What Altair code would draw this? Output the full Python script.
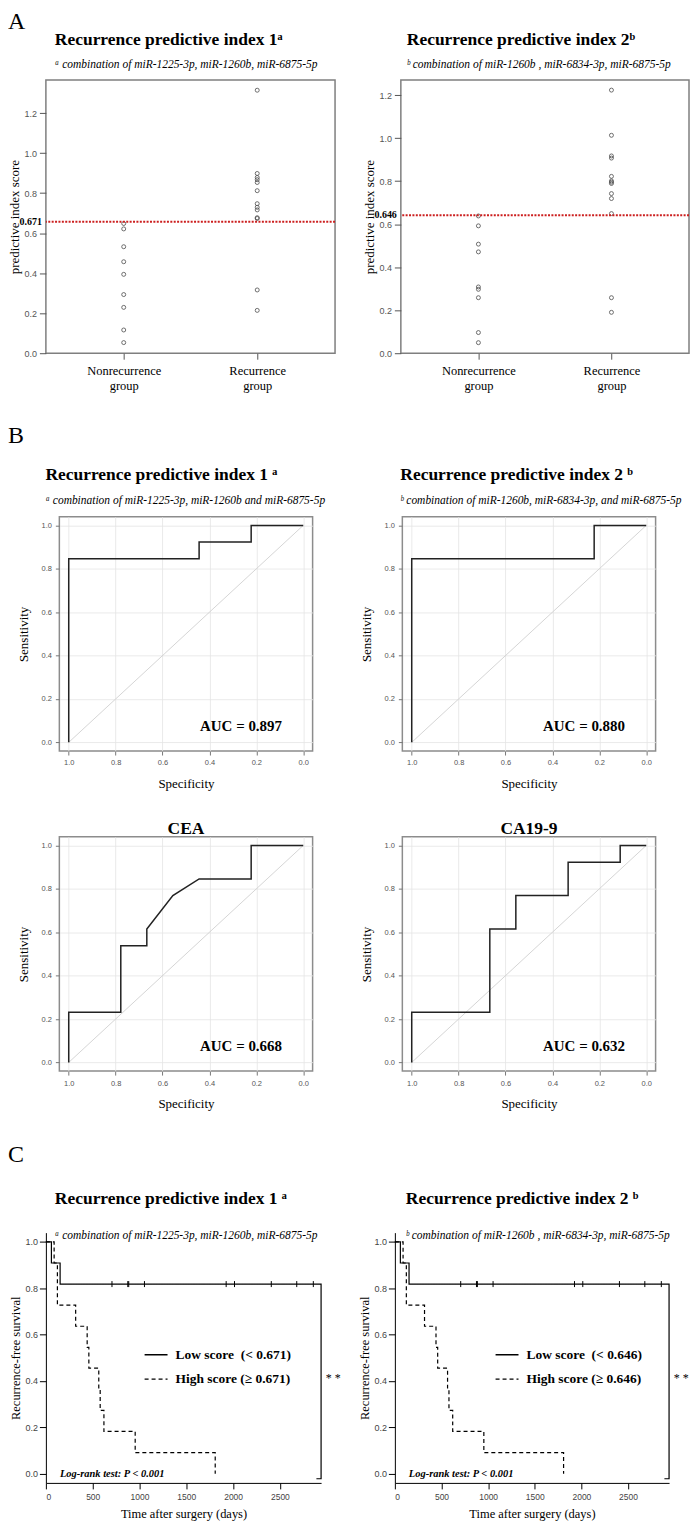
import altair as alt
import pandas as pd

SERIF = "Liberation Serif"
SANS = "Liberation Sans"

# ---------------- data ----------------
groups = ["Nonrecurrence group", "Recurrence group"]
idx1_nonrec = [0.648, 0.621, 0.532, 0.457, 0.394, 0.293, 0.229, 0.116, 0.053]
idx1_rec = [1.314, 0.898, 0.878, 0.867, 0.853, 0.812, 0.747, 0.729, 0.716, 0.677, 0.673, 0.316, 0.214]
idx2_nonrec = [0.638, 0.592, 0.507, 0.471, 0.308, 0.297, 0.258, 0.096, 0.049]
idx2_rec = [1.223, 1.013, 0.917, 0.907, 0.822, 0.801, 0.795, 0.789, 0.742, 0.719, 0.649, 0.258, 0.190]
cut1_line, cut1_label = 0.657, "0.671"
cut2_line, cut2_label = 0.641, "0.646"
score_ticks = [0.0, 0.2, 0.4, 0.6, 0.8, 1.0, 1.2]

roc1_spec = [1.0, 1.0, 0.444, 0.444, 0.222, 0.222, 0.0]
roc1_sens = [0.0, 0.846, 0.846, 0.923, 0.923, 1.0, 1.0]
roc2_spec = [1.0, 1.0, 0.222, 0.222, 0.0]
roc2_sens = [0.0, 0.846, 0.846, 1.0, 1.0]
cea_spec = [1.0, 1.0, 0.778, 0.778, 0.667, 0.667, 0.556, 0.444, 0.222, 0.222, 0.0]
cea_sens = [0.0, 0.231, 0.231, 0.538, 0.538, 0.615, 0.769, 0.846, 0.846, 1.0, 1.0]
ca_spec = [1.0, 1.0, 0.667, 0.667, 0.556, 0.556, 0.333, 0.333, 0.111, 0.111, 0.0]
ca_sens = [0.0, 0.231, 0.231, 0.615, 0.615, 0.769, 0.769, 0.923, 0.923, 1.0, 1.0]
roc_grid = [0.0, 0.1, 0.2, 0.3, 0.4, 0.5, 0.6, 0.7, 0.8, 0.9, 1.0]

low_t = [0, 59, 152, 2857]
low_s = [1.0, 0.909, 0.818, 0.818]
high_t = [0, 88, 123, 318, 441, 459, 565, 580, 620, 954, 1809]
high_s = [1.0, 0.909, 0.727, 0.636, 0.545, 0.455, 0.364, 0.273, 0.182, 0.091, 0.0]
censor_t = [706, 875, 885, 1053, 1926, 2015, 2408, 2680, 2857]
censor_s = 0.818
bracket_t = [2857, 2940, 2940, 2890]
bracket_s = [0.818, 0.818, -0.022, -0.022]
days_ticks = [0, 500, 1000, 1500, 2000, 2500]
surv_ticks = [0.0, 0.2, 0.4, 0.6, 0.8, 1.0]


def panel_title(text, sub, dx, offset, pad, anchor="start"):
    kw = dict(text=text, font=SERIF, fontSize=17.5, fontWeight="bold", color="black",
              anchor=anchor, frame="group", dx=dx, offset=offset)
    if sub:
        kw.update(subtitle=sub, subtitleFont=SERIF, subtitleFontSize=11.5,
                  subtitleFontStyle="italic", subtitleColor="black", subtitlePadding=pad)
    return alt.TitleParams(**kw)


def letter_title(text, dx, offset):
    return alt.TitleParams(text=text, font=SERIF, fontSize=24, fontWeight="normal", color="black",
                           anchor="start", frame="group", dx=dx, offset=offset)


# ---------------- panel A ----------------
def scatter_panel(nonrec, rec, line_val, line_label, ymax, width, height, title):
    df = pd.DataFrame({"group": [groups[0]] * len(nonrec) + [groups[1]] * len(rec),
                       "score": nonrec + rec})
    cut = pd.DataFrame({"score": [line_val], "label": [line_label]})
    yscale = alt.Scale(domain=[0, ymax], nice=False, zero=False)
    xscale = alt.Scale(type="point", domain=groups, padding=0.583)
    pts = alt.Chart(df).mark_point(shape="circle", filled=False, size=16, color="#4d4d4d",
                                   strokeWidth=0.8, opacity=1).encode(
        x=alt.X("group:N", scale=xscale,
                axis=alt.Axis(title=None, labelAngle=0, labelExpr="split(datum.label, ' ')",
                              labelFont=SERIF, labelFontSize=12.5, labelColor="black",
                              labelLineHeight=15.6, labelPadding=5, tickSize=6, tickColor="#555",
                              domain=False, grid=False)),
        y=alt.Y("score:Q", scale=yscale,
                axis=alt.Axis(values=score_ticks, format=".1f", title="predictive index score",
                              titleFont=SERIF, titleFontSize=13, titleFontWeight="normal",
                              titleColor="black", titlePadding=2, labelFont=SANS, labelFontSize=9,
                              labelColor="#555", labelPadding=3, tickSize=6.5, tickColor="#555",
                              domain=False, grid=False)))
    rule = alt.Chart(cut).mark_rule(color="#cc1f1f", strokeDash=[2, 1.4], strokeWidth=2).encode(
        y=alt.Y("score:Q", scale=yscale))
    lab = alt.Chart(cut).mark_text(align="right", baseline="middle", font=SERIF, fontWeight="bold",
                                   fontSize=10, color="black").encode(
        y=alt.Y("score:Q", scale=yscale), x=alt.value(-4), text="label:N")
    return alt.layer(pts, rule, lab).properties(
        width=width, height=height, title=title,
        view=alt.ViewBackground(stroke="#7f7f7f", strokeWidth=1.5))


# ---------------- panel B ----------------
EVEN = "round(datum.value*10) % 2 == 0"


def roc_axis(title):
    return alt.Axis(values=roc_grid, labelExpr=EVEN + " ? format(datum.value, '.1f') : ''",
                    title=title, grid=True,
                    gridColor={"condition": {"test": EVEN, "value": "#e4e4e4"}, "value": "#f0f0f0"},
                    gridWidth=0.8,
                    tickOpacity={"condition": {"test": EVEN, "value": 1}, "value": 0},
                    tickColor="#777", tickSize=4, labelFont=SANS, labelFontSize=7.5,
                    labelColor="#555", labelPadding=4, domain=False, titleFont=SERIF,
                    titleFontSize=13, titleFontWeight="normal", titleColor="black", titlePadding=11)


def roc_panel(spec, sens, auc, width, height, title):
    df = pd.DataFrame({"spec": spec, "sens": sens, "order": list(range(len(spec)))})
    diag = pd.DataFrame({"spec": [1.0, 0.0], "sens": [0.0, 1.0]})
    txt = pd.DataFrame({"spec": [0.44], "sens": [0.075], "label": [auc]})
    xs = alt.Scale(domain=[-0.04, 1.04], reverse=True, nice=False, zero=False)
    ys = alt.Scale(domain=[-0.04, 1.04], nice=False, zero=False)
    d = alt.Chart(diag).mark_line(color="#d0d0d0", strokeWidth=0.9).encode(
        x=alt.X("spec:Q", scale=xs, axis=roc_axis("Specificity")),
        y=alt.Y("sens:Q", scale=ys, axis=roc_axis("Sensitivity")))
    line = alt.Chart(df).mark_line(color="#222222", strokeWidth=1.5).encode(
        x=alt.X("spec:Q", scale=xs), y=alt.Y("sens:Q", scale=ys), order="order:Q")
    t = alt.Chart(txt).mark_text(align="left", baseline="middle", font=SERIF, fontWeight="bold",
                                 fontSize=15, color="black").encode(
        x=alt.X("spec:Q", scale=xs), y=alt.Y("sens:Q", scale=ys), text="label:N")
    return alt.layer(d, line, t).properties(
        width=width, height=height, title=title,
        view=alt.ViewBackground(stroke="#8c8c8c", strokeWidth=1.5))


# ---------------- panel C ----------------
def km_panel(cut_label, width, height, title, legend_x, legend_y):
    low_label = "Low score\u00a0\u00a0(< " + cut_label + ")"
    high_label = "High score (\u2265 " + cut_label + ")"
    df = pd.DataFrame({"t": low_t + high_t, "s": low_s + high_s,
                       "grp": [low_label] * len(low_t) + [high_label] * len(high_t)})
    cens = pd.DataFrame({"t": censor_t, "s": [censor_s] * len(censor_t)})
    br = pd.DataFrame({"t": bracket_t, "s": bracket_s, "o": list(range(len(bracket_t)))})
    stars = pd.DataFrame({"t": [2990], "s": [0.414], "label": ["* *"]})
    lr = pd.DataFrame({"t": [150], "s": [0.0], "label": ["Log-rank test: P < 0.001"]})
    xs = alt.Scale(domain=[0, 2940], nice=False, zero=False)
    ys = alt.Scale(domain=[-0.04, 1.04], nice=False, zero=False)
    xa = alt.Axis(values=days_ticks, format="d", title="Time after surgery (days)", grid=False,
                  domainColor="black", domainWidth=1, tickColor="black", tickSize=6,
                  labelFont=SANS, labelFontSize=8.5, labelColor="#444", labelPadding=4,
                  titleFont=SERIF, titleFontSize=12.5, titleFontWeight="normal",
                  titleColor="black", titlePadding=6)
    ya = alt.Axis(values=surv_ticks, format=".1f", title="Recurrence-free survival", grid=False,
                  domainColor="black", domainWidth=1, tickColor="black", tickSize=6.5,
                  labelFont=SANS, labelFontSize=9, labelColor="#444", labelPadding=2,
                  titleFont=SERIF, titleFontSize=12.5, titleFontWeight="normal",
                  titleColor="black", titlePadding=2)
    lines = alt.Chart(df).mark_line(interpolate="step-after", color="black", strokeWidth=1.2).encode(
        x=alt.X("t:Q", scale=xs, axis=xa), y=alt.Y("s:Q", scale=ys, axis=ya),
        strokeDash=alt.StrokeDash(
            "grp:N", scale=alt.Scale(domain=[low_label, high_label], range=[[1, 0], [4, 3]]),
            legend=alt.Legend(title=None, orient="none", legendX=legend_x, legendY=legend_y,
                              symbolType="stroke", symbolSize=529, symbolStrokeWidth=1.3,
                              symbolStrokeColor="black", labelFont=SERIF, labelFontWeight="bold",
                              labelFontSize=13.5, labelColor="black", labelOffset=7,
                              rowPadding=5.5, padding=0, labelLimit=300)))
    ticks = alt.Chart(cens).mark_point(shape="M0,-1L0,1", size=36, color="black", strokeWidth=1,
                                       filled=False, opacity=1).encode(
        x=alt.X("t:Q", scale=xs), y=alt.Y("s:Q", scale=ys))
    brk = alt.Chart(br).mark_line(color="black", strokeWidth=1.2).encode(
        x=alt.X("t:Q", scale=xs), y=alt.Y("s:Q", scale=ys), order="o:Q")
    st = alt.Chart(stars).mark_text(align="left", baseline="middle", font=SERIF, fontSize=12,
                                    color="black").encode(
        x=alt.X("t:Q", scale=xs), y=alt.Y("s:Q", scale=ys), text="label:N")
    lrt = alt.Chart(lr).mark_text(align="left", baseline="middle", font=SERIF, fontSize=10.5,
                                  fontStyle="italic", fontWeight="bold", color="black").encode(
        x=alt.X("t:Q", scale=xs), y=alt.Y("s:Q", scale=ys), text="label:N")
    return alt.layer(lines, ticks, brk, st, lrt).properties(
        width=width, height=height, title=title, view=alt.ViewBackground(stroke=None))


sub_a1 = "\u1d43 combination of miR-1225-3p, miR-1260b, miR-6875-5p"
sub_a2 = "\u1d47 combination of miR-1260b , miR-6834-3p, miR-6875-5p"
sub_b1 = "\u1d43 combination of miR-1225-3p, miR-1260b and miR-6875-5p"
sub_b2 = "\u1d47 combination of miR-1260b, miR-6834-3p, and miR-6875-5p"

a_l = scatter_panel(idx1_nonrec, idx1_rec, cut1_line, cut1_label, 1.365, 290, 274,
                    panel_title("Recurrence predictive index 1\u1d43", sub_a1, 9, 10, 10))
a_r = scatter_panel(idx2_nonrec, idx2_rec, cut2_line, cut2_label, 1.27, 289, 274,
                    panel_title("Recurrence predictive index 2\u1d47", sub_a2, 6, 10, 10))

b1 = roc_panel(roc1_spec, roc1_sens, "AUC = 0.897", 254, 235,
               panel_title("Recurrence predictive index 1 \u1d43", sub_b1, -14, 10, 12))
b2 = roc_panel(roc2_spec, roc2_sens, "AUC = 0.880", 254, 235,
               panel_title("Recurrence predictive index 2 \u1d47", sub_b2, -2, 10, 12))
b3 = roc_panel(cea_spec, cea_sens, "AUC = 0.668", 254, 235,
               panel_title("CEA", None, 0, -1, 0, anchor="middle"))
b4 = roc_panel(ca_spec, ca_sens, "AUC = 0.632", 254, 235,
               panel_title("CA19-9", None, 0, -1, 0, anchor="middle"))

c_l = km_panel(cut1_label, 276, 251,
               panel_title("Recurrence predictive index 1 \u1d43", sub_a1, 9, -9, 23), 98, 110)
c_r = km_panel(cut2_label, 275, 251,
               panel_title("Recurrence predictive index 2 \u1d47", sub_a2, 11, -9, 23), 100, 110)

# invisible spacer that shifts the B block to the right inside its row
spacer = alt.Chart(pd.DataFrame({"v": []})).mark_point(opacity=0).properties(
    width=1, height=1, view=alt.ViewBackground(stroke=None))

row_a = alt.vconcat(alt.hconcat(a_l, a_r, spacing=66, bounds="flush"),
                    title=letter_title("A", -38, -4))
block_b = alt.vconcat(alt.hconcat(b1, b2, spacing=90, bounds="flush"),
                      alt.hconcat(b3, b4, spacing=90, bounds="flush"),
                      spacing=27, title=letter_title("B", -51.5, 17))
row_b = alt.hconcat(spacer, block_b, spacing=12.5, bounds="flush")
row_c = alt.vconcat(
    alt.hconcat(c_l, c_r, spacing=74, bounds="flush").resolve_scale(strokeDash="independent"),
    title=letter_title("C", -38, 23)).resolve_scale(strokeDash="independent")

chart = alt.vconcat(row_a, row_b, row_c, spacing=31).properties(
    padding={"left": 0, "top": 0, "right": 0, "bottom": 0},
    background="white")

chart.save("out.html", embed_options={"renderer": "svg", "actions": False})
